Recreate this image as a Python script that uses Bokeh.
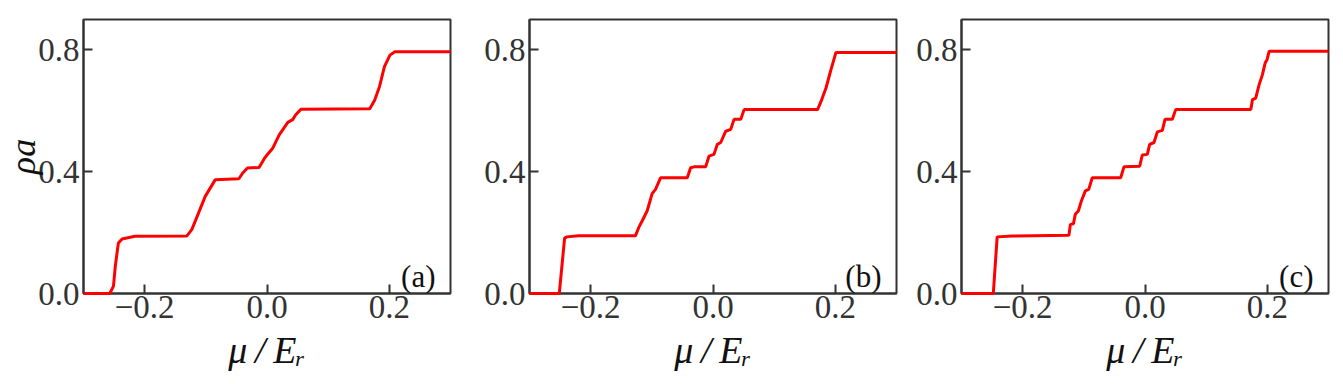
from bokeh.plotting import figure
from bokeh.layouts import row
from bokeh.models import Label, Range1d, FixedTicker
from bokeh.embed import file_html
from bokeh.resources import INLINE

# ---------------- data ----------------
mu_a = [-0.30, -0.257, -0.251, -0.248, -0.243, -0.237, -0.216, -0.131, -0.123, -0.112,
        -0.101, -0.0845, -0.046, -0.040, -0.032, -0.013, -0.005, 0.0, 0.009, 0.020,
        0.034, 0.042, 0.047, 0.0555, 0.168, 0.176, 0.184, 0.192, 0.201, 0.209, 0.30]
rho_a = [0.0, 0.0, 0.024, 0.09, 0.166, 0.179, 0.188, 0.189, 0.21, 0.264,
         0.319, 0.374, 0.377, 0.395, 0.412, 0.414, 0.441, 0.455, 0.476, 0.521,
         0.562, 0.571, 0.587, 0.605, 0.607, 0.635, 0.68, 0.745, 0.783, 0.794, 0.794]

mu_b = [-0.30, -0.2513, -0.2426, -0.2388, -0.2197, -0.1267, -0.1213, -0.1159, -0.1077, -0.0995,
        -0.094, -0.0858, -0.042, -0.0366, -0.031, -0.012, -0.0066, 0.0016, 0.0071, 0.0126,
        0.0208, 0.029, 0.0344, 0.0454, 0.0508, 0.171, 0.1766, 0.1847, 0.193, 0.201, 0.30]
rho_b = [0.0, 0.0, 0.182, 0.186, 0.19, 0.19, 0.217, 0.238, 0.271, 0.328,
         0.342, 0.380, 0.380, 0.413, 0.416, 0.416, 0.451, 0.457, 0.490, 0.496,
         0.533, 0.539, 0.572, 0.572, 0.604, 0.604, 0.631, 0.675, 0.736, 0.792, 0.792]

mu_c = [-0.30, -0.248, -0.2417, -0.217, -0.1244, -0.122, -0.117, -0.114, -0.109, -0.104,
        -0.0975, -0.092, -0.0862, -0.0398, -0.0344, -0.0087, -0.0044, 0.0038, 0.0076, 0.0147,
        0.0202, 0.0284, 0.0327, 0.0447, 0.0502, 0.173, 0.1757, 0.181, 0.1866, 0.192,
        0.1964, 0.1995, 0.203, 0.30]
rho_c = [0.0, 0.0, 0.186, 0.189, 0.191, 0.227, 0.229, 0.26, 0.271, 0.304,
         0.337, 0.342, 0.380, 0.380, 0.416, 0.418, 0.455, 0.457, 0.490, 0.496,
         0.531, 0.536, 0.572, 0.572, 0.604, 0.604, 0.637, 0.642, 0.686, 0.719,
         0.757, 0.768, 0.796, 0.796]

panel_tags = ["(a)", "(b)", "(c)"]
x_ticks = [-0.2, 0.0, 0.2]
x_tick_labels = ["\u22120.2", "0.0", "0.2"]
y_ticks = [0.0, 0.4, 0.8]
y_tick_labels = ["0.0", "0.4", "0.8"]
x_label = "\u03bc\u2009/\u2009E\u1d63"
y_label = "\u03c1a"

FONT = "Liberation Serif"
AX = "#333333"


def make_panel(mu, rho, tag, border_left, show_ylabel):
    p = figure(frame_width=367, frame_height=274,
               min_border_left=border_left, min_border_right=3,
               min_border_top=19, min_border_bottom=70,
               x_range=Range1d(-0.3, 0.3), y_range=Range1d(0.0, 0.9),
               output_backend="svg", toolbar_location=None)
    p.grid.visible = False
    p.outline_line_color = AX
    p.outline_line_width = 2
    p.background_fill_color = "white"
    p.border_fill_color = "white"

    for ax, ticks, labels in ((p.xaxis, x_ticks, x_tick_labels), (p.yaxis, y_ticks, y_tick_labels)):
        ax.ticker = FixedTicker(ticks=ticks)
        ax.major_label_overrides = {t: l for t, l in zip(ticks, labels)}
        ax.major_tick_in = 9
        ax.major_tick_out = 0
        ax.minor_tick_in = 0
        ax.minor_tick_out = 0
        ax.major_tick_line_width = 2
        ax.major_tick_line_color = AX
        ax.axis_line_width = 2
        ax.axis_line_color = AX
        ax.major_label_text_font = FONT
        ax.major_label_text_font_size = "33px"
        ax.major_label_text_color = AX
    p.xaxis.major_label_standoff = 2
    p.yaxis.major_label_standoff = 4

    p.xaxis.axis_label = x_label
    p.xaxis.axis_label_text_font = FONT
    p.xaxis.axis_label_text_font_style = "italic"
    p.xaxis.axis_label_text_font_size = "38px"
    p.xaxis.axis_label_text_color = "#111111"
    p.xaxis.axis_label_standoff = 8

    if show_ylabel:
        p.yaxis.axis_label = y_label
        p.yaxis.axis_label_text_font = FONT
        p.yaxis.axis_label_text_font_style = "italic"
        p.yaxis.axis_label_text_font_size = "36px"
        p.yaxis.axis_label_text_color = "#111111"
        p.yaxis.axis_label_standoff = -8

    r = p.line(mu, rho, line_color="#ff0000", line_width=3)
    r.level = "overlay"

    p.add_layout(Label(x=352, y=17, x_units="screen", y_units="screen", text=tag,
                       text_align="right", text_baseline="alphabetic",
                       text_font=FONT, text_font_size="31px", text_color="#111111"))
    return p


pa = make_panel(mu_a, rho_a, panel_tags[0], 83, True)
pb = make_panel(mu_b, rho_b, panel_tags[1], 76, False)
pc = make_panel(mu_c, rho_c, panel_tags[2], 62, False)

layout = row(pa, pb, pc)
open("out.html", "w").write(file_html(layout, INLINE))
